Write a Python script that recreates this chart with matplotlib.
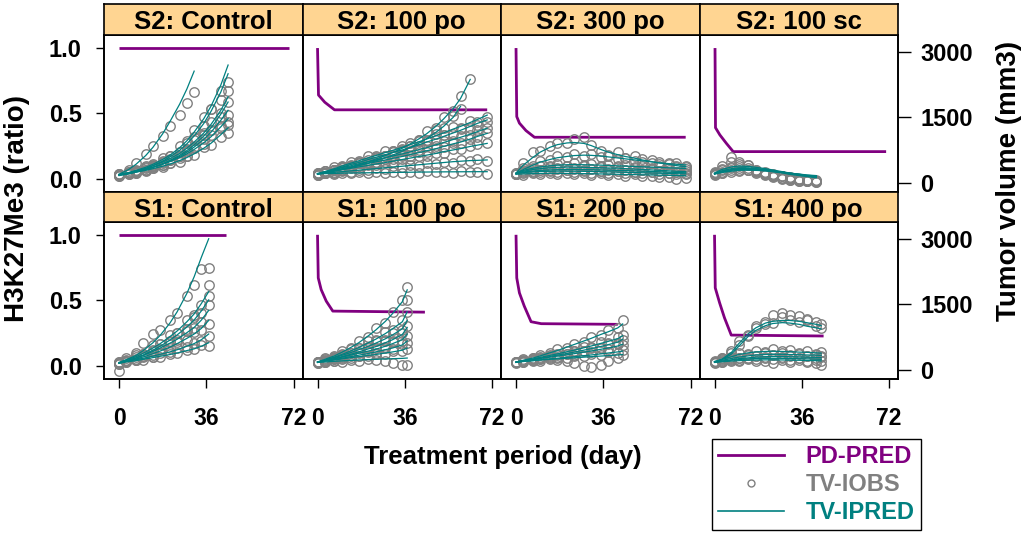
import matplotlib
matplotlib.use("Agg")
import matplotlib.pyplot as plt
from matplotlib.lines import Line2D

plt.rcParams['font.family'] = ['Liberation Sans', 'DejaVu Sans']
plt.rcParams['font.weight'] = 'bold'

# ---------------- data ----------------
panel_titles = ["S2: Control", "S2: 100 po", "S2: 300 po", "S2: 100 sc",
                "S1: Control", "S1: 100 po", "S1: 200 po", "S1: 400 po"]
x_ticks = [0, 36, 72]
ratio_ticks = [0.0, 0.5, 1.0]
ratio_labels = ["0.0", "0.5", "1.0"]
volume_ticks = [0, 1500, 3000]
volume_labels = ["0", "1500", "3000"]

# PD-PRED (H3K27Me3 ratio)
pd_s2_control_days = [0, 70]
pd_s2_control_vals = [1.0, 1.0]
pd_s2_100po_days = [0, 0.4, 3, 7, 70]
pd_s2_100po_vals = [1.0, 0.64, 0.585, 0.527, 0.527]
pd_s2_300po_days = [0, 0.3, 1.4, 4.1, 7.6, 70]
pd_s2_300po_vals = [1.0, 0.475, 0.425, 0.368, 0.317, 0.317]
pd_s2_100sc_days = [0.2, 0.4, 2.2, 4.9, 7.7, 70.8]
pd_s2_100sc_vals = [1.0, 0.39, 0.335, 0.27, 0.207, 0.207]
pd_s1_control_days = [0, 44]
pd_s1_control_vals = [1.0, 1.0]
pd_s1_100po_days = [0, 0.3, 1.5, 3.6, 6.3, 44.3]
pd_s1_100po_vals = [1.0, 0.671, 0.582, 0.494, 0.418, 0.41]
pd_s1_200po_days = [0, 0.3, 1.4, 3.4, 6.2, 10.4, 42]
pd_s1_200po_vals = [1.0, 0.671, 0.557, 0.456, 0.337, 0.322, 0.317]
pd_s1_400po_days = [0, 0.3, 2.1, 4.1, 6.9, 45]
pd_s1_400po_vals = [1.0, 0.595, 0.481, 0.367, 0.235, 0.228]

# Tumor volume: S2 Control
s2_control_days = [0, 4, 7, 11, 14, 18, 21, 25, 28, 31, 35, 38, 42, 45]
s2_control_pred = [
    [190, 300, 420, 620, 810, 1120, 1400, 1800, 2150, 2560],
    [180, 230, 280, 350, 420, 530, 630, 800, 960, 1160, 1470, 1760, 2240, 2700],
    [170, 215, 260, 325, 390, 490, 590, 740, 890, 1070, 1360, 1640, 2080, 2500],
    [180, 225, 265, 325, 385, 470, 550, 670, 790, 930, 1140, 1340, 1660, 1970],
    [160, 200, 240, 295, 350, 430, 510, 625, 735, 865, 1070, 1260, 1570, 1850],
    [170, 210, 245, 300, 350, 425, 495, 600, 700, 815, 995, 1160, 1430, 1660],
    [190, 225, 260, 310, 355, 420, 480, 575, 660, 760, 915, 1055, 1280, 1470],
    [180, 210, 240, 280, 320, 375, 425, 505, 575, 660, 790, 905, 1100, 1260],
]
s2_control_obs = [
    [170, 280, 450, 650, 850, 1060, 1300, 1550, 1820, 2080],
    [160, 250, 260, 390, 400, 560, 600, 850, 900, 1200, 1500, 1700, 2100, 2310],
    [200, 200, 290, 300, 420, 470, 620, 700, 950, 1050, 1300, 1700, 1900, 2100],
    [190, 240, 250, 350, 360, 500, 520, 700, 750, 980, 1100, 1400, 1600, 1850],
    [150, 220, 230, 270, 380, 410, 540, 600, 780, 820, 1150, 1200, 1500, 1550],
    [180, 190, 270, 280, 370, 400, 520, 560, 730, 800, 1000, 1210, 1300, 1400],
    [200, 240, 240, 330, 330, 450, 460, 600, 620, 800, 880, 1100, 1250, 1320],
    [170, 230, 220, 300, 340, 350, 450, 480, 600, 640, 820, 860, 1050, 1130],
]

# S2 100 po
s2_100po_days = [0, 3, 7, 10, 14, 17, 21, 24, 28, 31, 35, 38, 42, 45, 49, 52, 56, 59, 63, 66, 70]
s2_100po_pred = [
    [200, 230, 270, 310, 360, 410, 480, 540, 620, 690, 790, 880, 1010, 1120, 1300, 1460, 1700, 1930, 2370],
    [190, 225, 265, 300, 345, 390, 450, 500, 570, 630, 720, 800, 910, 1010, 1160, 1290, 1500, 1750],
    [200, 250, 320, 380, 450, 500, 570, 620, 690, 740, 810, 870, 940, 1000, 1080, 1140, 1230, 1290, 1380, 1450, 1550],
    [190, 240, 300, 350, 420, 460, 530, 580, 640, 690, 750, 800, 870, 930, 1000, 1060, 1140, 1200, 1290, 1360, 1440],
    [210, 250, 300, 340, 390, 430, 480, 520, 570, 610, 660, 700, 760, 800, 870, 920, 990, 1040, 1110, 1170, 1250],
    [200, 235, 280, 315, 360, 395, 440, 475, 520, 555, 600, 640, 690, 730, 780, 830, 890, 930, 1000, 1060, 1130],
    [200, 230, 265, 295, 330, 360, 395, 425, 460, 490, 530, 560, 600, 630, 670, 710, 750, 780, 830, 860, 900],
    [200, 215, 235, 250, 270, 285, 305, 320, 340, 355, 375, 390, 410, 425, 445, 460, 480, 490, 505, 510, 520],
    [200, 205, 210, 215, 220, 222, 225, 228, 230, 232, 235, 237, 240, 242, 244, 246, 247, 248, 249, 250, 250],
]
s2_100po_obs = [
    [180, 260, 250, 330, 340, 440, 450, 560, 600, 720, 760, 920, 980, 1180, 1250, 1500, 1650, 1980, 2370],
    [210, 210, 290, 290, 380, 370, 480, 480, 600, 600, 750, 760, 950, 980, 1200, 1250, 1530, 1700],
    [220, 230, 350, 360, 480, 470, 600, 590, 720, 700, 850, 830, 980, 950, 1120, 1100, 1280, 1250, 1420, 1400, 1510],
    [170, 260, 280, 380, 400, 490, 510, 610, 620, 720, 730, 840, 850, 960, 980, 1100, 1120, 1240, 1260, 1330, 1400],
    [200, 270, 280, 360, 370, 450, 460, 550, 540, 640, 640, 730, 740, 830, 850, 950, 960, 1080, 1090, 1200, 1245],
    [190, 220, 300, 300, 380, 380, 460, 460, 540, 540, 620, 620, 710, 710, 800, 810, 910, 900, 1010, 1050, 1150],
    [210, 210, 280, 280, 350, 340, 410, 410, 480, 470, 550, 540, 620, 610, 690, 690, 770, 760, 850, 880, 900],
    [190, 230, 220, 270, 250, 300, 290, 340, 320, 370, 360, 410, 390, 440, 430, 470, 460, 510, 490, 530, 500],
    [180, 220, 200, 230, 210, 240, 220, 250, 230, 240, 220, 250, 230, 260, 240, 250, 230, 260, 240, 250, 200],
]

# S2 300 po
s2_300po_days = [0, 3, 7, 10, 14, 17, 21, 24, 28, 31, 35, 38, 42, 45, 49, 52, 56, 59, 63, 66, 70]
s2_300po_pred = [
    [220, 400, 580, 700, 810, 870, 910, 920, 900, 850, 760, 700, 640, 600, 560, 520, 480, 450, 420, 390, 366],
    [210, 300, 400, 470, 530, 570, 600, 620, 630, 625, 610, 590, 565, 545, 520, 500, 475, 455, 435, 420, 405],
    [200, 260, 300, 320, 340, 350, 355, 355, 350, 345, 340, 335, 330, 320, 310, 300, 290, 280, 270, 260, 250],
    [200, 240, 265, 280, 290, 295, 300, 300, 298, 295, 290, 285, 280, 275, 270, 262, 255, 248, 240, 232, 225],
    [210, 230, 245, 255, 260, 262, 262, 260, 258, 255, 250, 245, 240, 235, 230, 225, 220, 215, 210, 205, 200],
    [190, 200, 205, 210, 212, 212, 210, 208, 205, 202, 198, 194, 190, 186, 182, 178, 174, 170, 166, 162, 158],
    [220, 280, 330, 360, 385, 400, 410, 412, 410, 405, 400, 392, 385, 378, 370, 362, 355, 348, 340, 332, 325],
]
s2_300po_obs = [
    [200, 450, 700, 720, 830, 900, 900, 1000, 1040, 870, 720, 640, 700, 560, 600, 480, 520, 420, 460, 370, 350],
    [190, 330, 380, 500, 510, 600, 580, 650, 620, 660, 580, 610, 540, 560, 500, 530, 460, 480, 420, 440, 380],
    [220, 240, 330, 300, 360, 330, 380, 340, 370, 320, 360, 310, 350, 300, 330, 280, 310, 260, 290, 240, 270],
    [190, 260, 250, 300, 270, 320, 280, 320, 280, 310, 270, 300, 260, 290, 250, 280, 240, 260, 220, 250, 200],
    [230, 210, 260, 240, 280, 240, 280, 240, 270, 230, 270, 230, 260, 220, 250, 210, 240, 200, 230, 190, 220],
    [200, 180, 220, 190, 230, 190, 230, 190, 220, 180, 210, 170, 200, 160, 190, 140, 160, 120, 130, 90, 100],
    [200, 300, 310, 390, 370, 430, 390, 440, 400, 430, 380, 410, 370, 400, 360, 380, 340, 370, 330, 350, 310],
]

# S2 100 sc
s2_100sc_days = [0, 3, 7, 10, 14, 17, 21, 24, 28, 31, 35, 38, 42]
s2_100sc_pred = [
    [220, 300, 360, 380, 370, 350, 320, 290, 250, 220, 190, 160, 140],
    [200, 270, 320, 340, 340, 320, 300, 270, 240, 210, 180, 160, 130],
    [210, 260, 300, 320, 320, 310, 290, 260, 230, 200, 170, 150, 120],
    [190, 240, 280, 300, 300, 290, 270, 250, 220, 190, 160, 140, 110],
    [200, 250, 290, 310, 315, 305, 285, 265, 240, 215, 190, 170, 150],
    [210, 230, 260, 280, 285, 280, 270, 255, 235, 215, 195, 175, 160],
]
s2_100sc_obs = [
    [230, 380, 590, 420, 400, 300, 220, 180, 140, 100, 80, 50, 30],
    [180, 320, 480, 380, 300, 250, 200, 150, 110, 80, 50, 30, 20],
    [220, 280, 330, 480, 330, 260, 200, 140, 100, 70, 40, 30, 25],
    [200, 250, 290, 330, 280, 220, 170, 120, 90, 60, 40, 30, 20],
    [190, 230, 350, 300, 400, 300, 250, 200, 150, 110, 80, 50, 30],
    [240, 210, 250, 260, 300, 260, 220, 180, 150, 120, 90, 70, 50],
]

# S1 Control
s1_control_days = [0, 3, 7, 10, 14, 17, 21, 24, 28, 31, 34, 37]
s1_control_pred = [
    [160, 230, 330, 440, 620, 790, 1070, 1330, 1750, 2130, 2580, 3000],
    [170, 230, 300, 380, 500, 600, 760, 890, 1100, 1280, 1520, 1790],
    [150, 205, 270, 340, 450, 540, 680, 800, 980, 1140, 1350, 1600],
    [160, 210, 270, 330, 420, 500, 610, 700, 850, 970, 1140, 1360],
    [150, 195, 245, 295, 370, 430, 520, 600, 720, 820, 950, 1130],
    [160, 195, 230, 265, 315, 355, 410, 460, 540, 600, 690, 820],
    [150, 180, 210, 240, 280, 310, 350, 385, 440, 480, 540, 620],
]
s1_control_obs = [
    [150, 260, 380, 620, 820, 900, 1130, 1300, 1700, 1950, 2300, 2340],
    [180, 200, 330, 360, 560, 580, 800, 850, 1150, 1250, 1480, 1950],
    [140, 230, 250, 370, 420, 580, 650, 850, 930, 1200, 1300, 1690],
    [170, 190, 290, 310, 450, 470, 640, 680, 880, 950, 1100, 1480],
    [160, 210, 230, 320, 350, 460, 490, 640, 690, 860, 900, 1050],
    [-30, 210, 220, 290, 300, 380, 400, 490, 520, 620, 670, 780],
    [140, 170, 230, 230, 300, 300, 370, 380, 460, 470, 560, 545],
]

# S1 100 po
s1_100po_days = [0, 3, 7, 10, 14, 17, 21, 24, 28, 31, 35, 37]
s1_100po_pred = [
    [180, 240, 320, 400, 520, 620, 780, 910, 1110, 1290, 1560, 1830],
    [170, 220, 290, 350, 440, 510, 620, 700, 830, 940, 1100, 1330],
    [180, 220, 280, 330, 400, 460, 540, 610, 710, 800, 940, 1130],
    [170, 210, 260, 300, 360, 410, 480, 530, 620, 690, 810, 970],
    [180, 210, 250, 290, 340, 380, 430, 470, 540, 600, 690, 820],
    [170, 200, 235, 265, 305, 335, 375, 410, 460, 500, 570, 660],
    [180, 200, 225, 250, 280, 300, 330, 350, 385, 410, 450, 500],
    [170, 180, 195, 205, 215, 225, 235, 240, 250, 255, 262, 270],
]
s1_100po_obs = [
    [170, 260, 300, 430, 500, 650, 750, 950, 1080, 1330, 1600, 1890],
    [190, 200, 310, 330, 470, 490, 660, 680, 870, 910, 1150, 1600],
    [160, 240, 260, 360, 380, 490, 520, 650, 690, 840, 900, 1320],
    [180, 190, 280, 290, 390, 390, 510, 510, 650, 660, 850, 1000],
    [170, 230, 240, 310, 320, 400, 420, 500, 520, 630, 660, 780],
    [180, 190, 250, 250, 330, 320, 400, 390, 490, 480, 600, 620],
    [160, 210, 210, 270, 260, 320, 310, 370, 360, 430, 420, 480],
    [180, 170, 210, 190, 230, 200, 250, 220, 200, 150, 120, 120],
]

# S1 200 po
s1_200po_days = [0, 3, 7, 10, 14, 17, 21, 24, 28, 31, 35, 38, 42, 44]
s1_200po_pred = [
    [180, 220, 270, 320, 390, 440, 520, 580, 660, 720, 810, 870, 960, 1050],
    [180, 210, 250, 285, 330, 365, 415, 450, 505, 545, 605, 650, 715, 780],
    [170, 200, 235, 265, 305, 335, 375, 405, 450, 485, 535, 575, 635, 700],
    [180, 205, 235, 260, 290, 315, 345, 370, 405, 430, 470, 500, 545, 585],
    [170, 190, 210, 230, 250, 265, 285, 300, 325, 340, 365, 385, 410, 430],
    [180, 195, 210, 225, 240, 250, 265, 275, 290, 300, 315, 325, 340, 350],
]
s1_200po_obs = [
    [170, 240, 260, 340, 380, 470, 500, 600, 640, 750, 790, 900, 950, 1130],
    [190, 200, 270, 270, 350, 350, 440, 430, 530, 520, 630, 620, 740, 800],
    [160, 220, 220, 290, 290, 360, 360, 430, 430, 510, 510, 600, 610, 680],
    [180, 190, 250, 240, 310, 300, 370, 350, 430, 410, 500, 480, 580, 560],
    [170, 200, 200, 250, 240, 280, 270, 320, 310, 360, 350, 400, 390, 450],
    [190, 180, 230, 210, 260, 230, 200, 150, 90, 60, 120, 200, 280, 330],
]

# S1 400 po
s1_400po_days = [0, 3, 7, 10, 14, 17, 21, 24, 28, 31, 35, 38, 42, 44]
s1_400po_pred = [
    [180, 240, 400, 600, 830, 960, 1070, 1110, 1130, 1130, 1110, 1080, 1040, 1010],
    [190, 230, 360, 540, 770, 900, 1010, 1060, 1080, 1070, 1040, 1000, 960, 935],
    [180, 240, 300, 350, 390, 410, 420, 425, 420, 415, 405, 400, 390, 380],
    [190, 220, 260, 290, 320, 340, 350, 355, 355, 350, 345, 340, 335, 330],
    [170, 200, 230, 255, 275, 290, 300, 305, 305, 300, 295, 290, 285, 280],
    [180, 200, 220, 235, 250, 258, 262, 264, 262, 258, 254, 250, 245, 240],
    [170, 185, 200, 210, 220, 225, 228, 228, 226, 222, 218, 214, 210, 205],
]
s1_400po_obs = [
    [170, 280, 420, 650, 780, 1000, 1100, 1250, 1290, 1250, 1240, 1170, 1100, 1050],
    [190, 240, 380, 560, 800, 950, 1050, 1080, 1200, 1150, 1100, 1150, 1000, 960],
    [170, 260, 280, 380, 360, 440, 400, 470, 430, 450, 390, 430, 370, 400],
    [200, 210, 290, 280, 350, 320, 380, 340, 380, 330, 370, 320, 350, 310],
    [160, 220, 220, 280, 260, 310, 290, 330, 290, 320, 280, 310, 270, 300],
    [190, 190, 240, 220, 270, 240, 280, 240, 270, 230, 260, 200, 150, 100],
    [180, 170, 210, 200, 240, 210, 200, 160, 230, 190, 230, 180, 220, 200],
]

panels = [
    (pd_s2_control_days, pd_s2_control_vals, s2_control_days, s2_control_obs, s2_control_pred),
    (pd_s2_100po_days, pd_s2_100po_vals, s2_100po_days, s2_100po_obs, s2_100po_pred),
    (pd_s2_300po_days, pd_s2_300po_vals, s2_300po_days, s2_300po_obs, s2_300po_pred),
    (pd_s2_100sc_days, pd_s2_100sc_vals, s2_100sc_days, s2_100sc_obs, s2_100sc_pred),
    (pd_s1_control_days, pd_s1_control_vals, s1_control_days, s1_control_obs, s1_control_pred),
    (pd_s1_100po_days, pd_s1_100po_vals, s1_100po_days, s1_100po_obs, s1_100po_pred),
    (pd_s1_200po_days, pd_s1_200po_vals, s1_200po_days, s1_200po_obs, s1_200po_pred),
    (pd_s1_400po_days, pd_s1_400po_vals, s1_400po_days, s1_400po_obs, s1_400po_pred),
]

# ---------------- style / layout ----------------
PURPLE = '#800080'
TEAL = '#008080'
GRAY = '#808080'
STRIP = '#FFD592'

W, H = 1029, 538
fig = plt.figure(figsize=(W / 100, H / 100), dpi=100)


def rect(x, y, w, h):
    return [x / W, 1 - (y + h) / H, w / W, h / H]


col_x = [104, 302.5, 501, 699.5]
col_w = 198.5
panel_y = [35, 221.7]
panel_h = [156.7, 157.3]
strip_y = [4, 191.7]
strip_h = [31, 30]

for i, (pdd, pdv, days, obs_list, pred_list) in enumerate(panels):
    r, c = divmod(i, 4)
    ax = fig.add_axes(rect(col_x[c], panel_y[r], col_w, panel_h[r]))
    ax.set_xlim(-6.2, 75.7)
    ax.set_ylim(-0.1, 1.1)
    ax2 = ax.twinx()
    ax2.set_ylim(-210, 3390)

    ax.plot(pdd, pdv, color=PURPLE, lw=2.0, solid_capstyle='butt', solid_joinstyle='round')
    for obs in obs_list:
        ax2.plot(days[:len(obs)], obs, ls='none', marker='o', ms=6.8, mfc='none',
                 mec=GRAY, mew=1.0)
    for pred in pred_list:
        ax2.plot(days[:len(pred)], pred, color=TEAL, lw=0.9)

    ax.set_yticks(ratio_ticks)
    ax.set_yticklabels(ratio_labels)
    ax2.set_yticks(volume_ticks)
    ax2.set_yticklabels(volume_labels)
    ax.set_xticks(x_ticks)

    ax.tick_params(axis='y', which='both', left=(c == 0), labelleft=(c == 0),
                   right=False, labelright=False, length=6, width=1.0,
                   pad=10, labelsize=17)
    ax2.tick_params(axis='y', which='both', right=(c == 3), labelright=(c == 3),
                    left=False, labelleft=False, length=9.5, width=1.0,
                    pad=6.5, labelsize=17)
    ax.tick_params(axis='x', bottom=(r == 1), labelbottom=(r == 1), top=False,
                   length=6.5, width=1.0, pad=14, labelsize=16.5)
    for a in (ax, ax2):
        for s in a.spines.values():
            s.set_linewidth(1.2)
            s.set_color('black')

    sax = fig.add_axes(rect(col_x[c], strip_y[r], col_w, strip_h[r]))
    sax.set_facecolor(STRIP)
    sax.set_xticks([])
    sax.set_yticks([])
    for s in sax.spines.values():
        s.set_linewidth(1.2)
    sax.text(0.5, 0.18 if r == 0 else 0.17, panel_titles[i], ha='center', va='baseline',
             fontsize=18.5, weight='bold', transform=sax.transAxes)

fig.text(17 / W, 1 - 208 / H, "H3K27Me3 (ratio)", rotation=90, ha='center', va='center',
         fontsize=20, weight='bold')
fig.text(1009 / W, 1 - 181 / H, "Tumor volume (mm3)", rotation=90, ha='center', va='center',
         fontsize=20, weight='bold')
fig.text(503 / W, 1 - 457 / H, "Treatment period (day)", ha='center', va='center',
         fontsize=18.5, weight='bold')

handles = [Line2D([], [], color=PURPLE, lw=2.0),
           Line2D([], [], ls='none', marker='o', ms=5, mfc='none', mec=GRAY, mew=1.0),
           Line2D([], [], color=TEAL, lw=1.2)]
labels = ["PD-PRED", "TV-IOBS", "TV-IPRED"]
leg = fig.legend(handles, labels, loc='upper left',
                 bbox_to_anchor=(711.7 / W, 1 - 439 / H), bbox_transform=fig.transFigure,
                 frameon=True, fancybox=False, edgecolor='black', framealpha=1,
                 prop=dict(weight='bold', size=17), handlelength=2.8, handletextpad=0.93,
                 borderpad=0.25, labelspacing=0.22, borderaxespad=0)
leg.get_frame().set_linewidth(1.0)
for t, col in zip(leg.get_texts(), [PURPLE, GRAY, TEAL]):
    t.set_color(col)

fig.savefig("out.png", dpi=100)
